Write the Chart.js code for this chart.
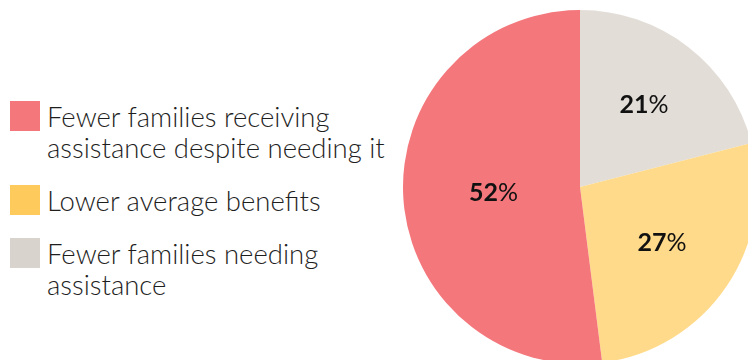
<!DOCTYPE html>
<html>
<head>
<meta charset="utf-8">
<script src="https://cdn.jsdelivr.net/npm/chart.js@4"></script>
<style>
  html, body { margin: 0; padding: 0; background: #fff; }
  body { width: 748px; height: 360px; overflow: hidden; position: relative; font-family: Lato, "Open Sans", sans-serif; }
  #legend { position: absolute; left: 10px; top: 101px; width: 400px; }
  .item { display: flex; align-items: flex-start; margin-bottom: 22px; }
  .box { width: 30px; height: 30px; flex: none; }
  .text { margin-left: 7px; margin-top: 0px; font-size: 27.5px; font-weight: 300; line-height: 31px; color: #1e1e1e; }
  #wrap { position: absolute; left: 403px; top: 10px; width: 354px; height: 354px; }
</style>
</head>
<body>
<div id="legend"></div>
<div id="wrap"><canvas id="pie"></canvas></div>
<script>
// legend order (as in the source)
const legendLabels = [
  ['Fewer families receiving', 'assistance despite needing it'],
  ['Lower average benefits'],
  ['Fewer families needing', 'assistance']
];
const legendColors = ['#f4777c', '#ffca5c', '#d9d3cd'];

// pie order, clockwise from 12 o'clock
const sliceLabels = ['Fewer families needing assistance', 'Lower average benefits', 'Fewer families receiving assistance despite needing it'];
const sliceValues = [21, 27, 52];
const sliceColors = ['#e2ddd7', '#ffda8a', '#f4777c'];

const legend = document.getElementById('legend');
legendLabels.forEach((lines, i) => {
  const item = document.createElement('div');
  item.className = 'item';
  item.innerHTML = '<div class="box" style="background:' + legendColors[i] + '"></div>' +
    '<div class="text">' + lines.join('<br>') + '</div>';
  legend.appendChild(item);
});

// draws "NN%" with bold digits and a lighter percent sign
const pctLabels = {
  id: 'pctLabels',
  afterDatasetsDraw(chart, args, opts) {
    const ctx = chart.ctx;
    const meta = chart.getDatasetMeta(0);
    meta.data.forEach((arc, i) => {
      const mid = (arc.startAngle + arc.endAngle) / 2;
      const r = arc.outerRadius * opts.radius[i];
      const x = arc.x + Math.cos(mid) * r;
      const y = arc.y + Math.sin(mid) * r;
      const num = String(sliceValues[i]);
      ctx.save();
      ctx.fillStyle = '#111';
      ctx.textBaseline = 'middle';
      ctx.font = 'bold 25px Lato, sans-serif';
      const w1 = ctx.measureText(num).width;
      ctx.font = '25px Lato, sans-serif';
      const w2 = ctx.measureText('%').width;
      let sx = x - (w1 + w2) / 2;
      ctx.textAlign = 'left';
      ctx.font = 'bold 25px Lato, sans-serif';
      ctx.fillText(num, sx, y);
      ctx.font = '25px Lato, sans-serif';
      ctx.fillText('%', sx + w1, y);
      ctx.restore();
    });
  }
};

new Chart(document.getElementById('pie'), {
  type: 'pie',
  data: {
    labels: sliceLabels,
    datasets: [{
      data: sliceValues,
      backgroundColor: sliceColors,
      borderWidth: 0
    }]
  },
  options: {
    responsive: true,
    maintainAspectRatio: false,
    animation: false,
    layout: { padding: 0 },
    plugins: {
      legend: { display: false },
      tooltip: { enabled: false },
      pctLabels: { radius: [0.59, 0.56, 0.49] }
    }
  },
  plugins: [pctLabels]
});
</script>
</body>
</html>
